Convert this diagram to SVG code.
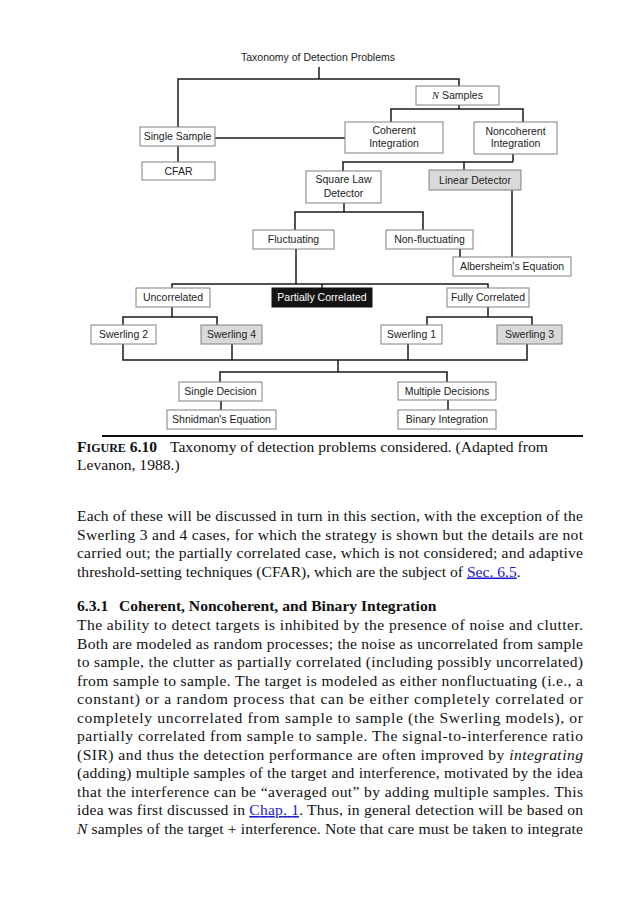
<svg xmlns="http://www.w3.org/2000/svg" width="636" height="900" viewBox="0 0 636 900">
<style>
.box{fill:#fff;stroke:#808080;stroke-width:1}
.gray{fill:#d9d9d9;stroke:#808080;stroke-width:1}
.dark{fill:#141414;stroke:#141414;stroke-width:1}
.lbl{font-family:"Liberation Sans",Arial,sans-serif;font-size:10.5px;fill:#222;text-anchor:middle}
.wlbl{font-family:"Liberation Sans",Arial,sans-serif;font-size:10.5px;fill:#fff;text-anchor:middle}
.conn{fill:none;stroke:#1a1a1a;stroke-width:1.5}
.body{font-family:"Liberation Serif","Times New Roman",serif;font-size:15.6px;fill:#111}
.bold{font-weight:bold}
.link{fill:#1a1acc;text-decoration:underline}
</style>
<rect width="636" height="900" fill="#fff"/>
<g id="connectors">
<path class="conn" d="M319,67 V79"/>
<path class="conn" d="M178,127 V79 H459 V86"/>
<path class="conn" d="M178,146 V162"/>
<path class="conn" d="M215,138 H345"/>
<path class="conn" d="M459,105 V109"/>
<path class="conn" d="M391,122 V109 H523 V122"/>
<path class="conn" d="M513,154 V162"/>
<path class="conn" d="M343,171 V162 H513"/>
<path class="conn" d="M464,162 V170"/>
<path class="conn" d="M344,203 V212"/>
<path class="conn" d="M295,230 V212 H423 V230"/>
<path class="conn" d="M512,190 V257"/>
<path class="conn" d="M460,249 V257"/>
<path class="conn" d="M296,249 V284"/>
<path class="conn" d="M172,288 V284 H488 V288"/>
<path class="conn" d="M322,284 V288"/>
<path class="conn" d="M172,307 V317"/>
<path class="conn" d="M123,325 V317 H217 V325"/>
<path class="conn" d="M488,307 V317"/>
<path class="conn" d="M427,325 V317 H532 V325"/>
<path class="conn" d="M123,344 V360 H527 V344"/>
<path class="conn" d="M232,344 V360"/>
<path class="conn" d="M408,344 V360"/>
<path class="conn" d="M338,360 V372"/>
<path class="conn" d="M220,382 V372 H447 V382"/>
<path class="conn" d="M221,401 V410"/>
<path class="conn" d="M448,400 V410"/>
</g>
<g id="title"><text class="lbl" x="318" y="61">Taxonomy of Detection Problems</text></g>
<g id="n-samples"><rect class="box" x="416" y="86" width="83" height="19"/><text class="lbl" x="457.5" y="99"><tspan font-family="Liberation Serif,serif" font-style="italic">N</tspan> Samples</text></g>
<g id="single-sample"><rect class="box" x="140" y="127" width="75" height="19"/><text class="lbl" x="177.5" y="140">Single Sample</text></g>
<g id="cfar"><rect class="box" x="142" y="162" width="73" height="18"/><text class="lbl" x="178.5" y="175">CFAR</text></g>
<g id="coherent"><rect class="box" x="345" y="122" width="98" height="31"/><text class="lbl" x="394" y="134">Coherent</text><text class="lbl" x="394" y="146.5">Integration</text></g>
<g id="noncoherent"><rect class="box" x="474" y="122" width="83" height="32"/><text class="lbl" x="515.5" y="134.5">Noncoherent</text><text class="lbl" x="515.5" y="147">Integration</text></g>
<g id="square-law"><rect class="box" x="306" y="171" width="75" height="32"/><text class="lbl" x="343.5" y="183">Square Law</text><text class="lbl" x="343.5" y="196.5">Detector</text></g>
<g id="linear"><rect class="gray" x="429" y="170" width="92" height="20"/><text class="lbl" x="475" y="184">Linear Detector</text></g>
<g id="fluctuating"><rect class="box" x="253" y="230" width="81" height="19"/><text class="lbl" x="293.5" y="243">Fluctuating</text></g>
<g id="non-fluctuating"><rect class="box" x="386" y="230" width="87" height="19"/><text class="lbl" x="429.5" y="243">Non-fluctuating</text></g>
<g id="albersheim"><rect class="box" x="453" y="257" width="118" height="19"/><text class="lbl" x="512" y="270">Albersheim's Equation</text></g>
<g id="uncorrelated"><rect class="box" x="136" y="288" width="74" height="19"/><text class="lbl" x="173" y="301">Uncorrelated</text></g>
<g id="partially"><rect class="dark" x="272" y="288" width="100" height="19"/><text class="wlbl" x="322" y="301">Partially Correlated</text></g>
<g id="fully"><rect class="box" x="447" y="288" width="82" height="19"/><text class="lbl" x="488" y="301">Fully Correlated</text></g>
<g id="swerling2"><rect class="box" x="91" y="325" width="65" height="19"/><text class="lbl" x="123.5" y="338">Swerling 2</text></g>
<g id="swerling4"><rect class="gray" x="201" y="325" width="61" height="19"/><text class="lbl" x="231.5" y="338">Swerling 4</text></g>
<g id="swerling1"><rect class="box" x="381" y="325" width="61" height="19"/><text class="lbl" x="411.5" y="338">Swerling 1</text></g>
<g id="swerling3"><rect class="gray" x="497" y="325" width="65" height="19"/><text class="lbl" x="529.5" y="338">Swerling 3</text></g>
<g id="single-decision"><rect class="box" x="179" y="382" width="83" height="19"/><text class="lbl" x="220.5" y="395">Single Decision</text></g>
<g id="shnidman"><rect class="box" x="167" y="410" width="109" height="19"/><text class="lbl" x="221.5" y="423">Shnidman's Equation</text></g>
<g id="multiple-decisions"><rect class="box" x="398" y="382" width="98" height="18"/><text class="lbl" x="447" y="395">Multiple Decisions</text></g>
<g id="binary"><rect class="box" x="398" y="410" width="98" height="19"/><text class="lbl" x="447" y="423">Binary Integration</text></g>
<path d="M102,436 H583" stroke="#111" stroke-width="2"/>
<g id="caption" class="body">
<text x="77" y="452"><tspan class="bold">F</tspan><tspan class="bold" font-size="12">IGURE</tspan><tspan class="bold"> 6.10</tspan></text>
<text x="170" y="452">Taxonomy of detection problems considered. (Adapted from</text>
<text x="77" y="470">Levanon, 1988.)</text>
</g>
<g id="para1" class="body">
<text x="77" y="521" textLength="506" lengthAdjust="spacing">Each of these will be discussed in turn in this section, with the exception of the</text>
<text x="77" y="539.5" textLength="506" lengthAdjust="spacing">Swerling 3 and 4 cases, for which the strategy is shown but the details are not</text>
<text x="77" y="558" textLength="506" lengthAdjust="spacing">carried out; the partially correlated case, which is not considered; and adaptive</text>
<text x="77" y="576.5">threshold-setting techniques (CFAR), which are the subject of <tspan class="link">Sec. 6.5</tspan>.</text>
</g>
<g id="heading" class="body bold">
<text x="77" y="611">6.3.1</text>
<text x="119" y="611">Coherent, Noncoherent, and Binary Integration</text>
</g>
<g id="para2" class="body">
<text x="77" y="630" textLength="506" lengthAdjust="spacing">The ability to detect targets is inhibited by the presence of noise and clutter.</text>
<text x="77" y="648.5" textLength="506" lengthAdjust="spacing">Both are modeled as random processes; the noise as uncorrelated from sample</text>
<text x="77" y="667" textLength="506" lengthAdjust="spacing">to sample, the clutter as partially correlated (including possibly uncorrelated)</text>
<text x="77" y="685.5" textLength="506" lengthAdjust="spacing">from sample to sample. The target is modeled as either nonfluctuating (i.e., a</text>
<text x="77" y="704" textLength="506" lengthAdjust="spacing">constant) or a random process that can be either completely correlated or</text>
<text x="77" y="722.5" textLength="506" lengthAdjust="spacing">completely uncorrelated from sample to sample (the Swerling models), or</text>
<text x="77" y="741" textLength="506" lengthAdjust="spacing">partially correlated from sample to sample. The signal-to-interference ratio</text>
<text x="77" y="759.5" textLength="506" lengthAdjust="spacing">(SIR) and thus the detection performance are often improved by <tspan font-style="italic">integrating</tspan></text>
<text x="77" y="778" textLength="506" lengthAdjust="spacing">(adding) multiple samples of the target and interference, motivated by the idea</text>
<text x="77" y="796.5" textLength="506" lengthAdjust="spacing">that the interference can be “averaged out” by adding multiple samples. This</text>
<text x="77" y="815" textLength="506" lengthAdjust="spacing">idea was first discussed in <tspan class="link">Chap. 1</tspan>. Thus, in general detection will be based on</text>
<text x="77" y="833.5" textLength="506" lengthAdjust="spacing"><tspan font-style="italic">N</tspan> samples of the target + interference. Note that care must be taken to integrate</text>
</g>
</svg>
